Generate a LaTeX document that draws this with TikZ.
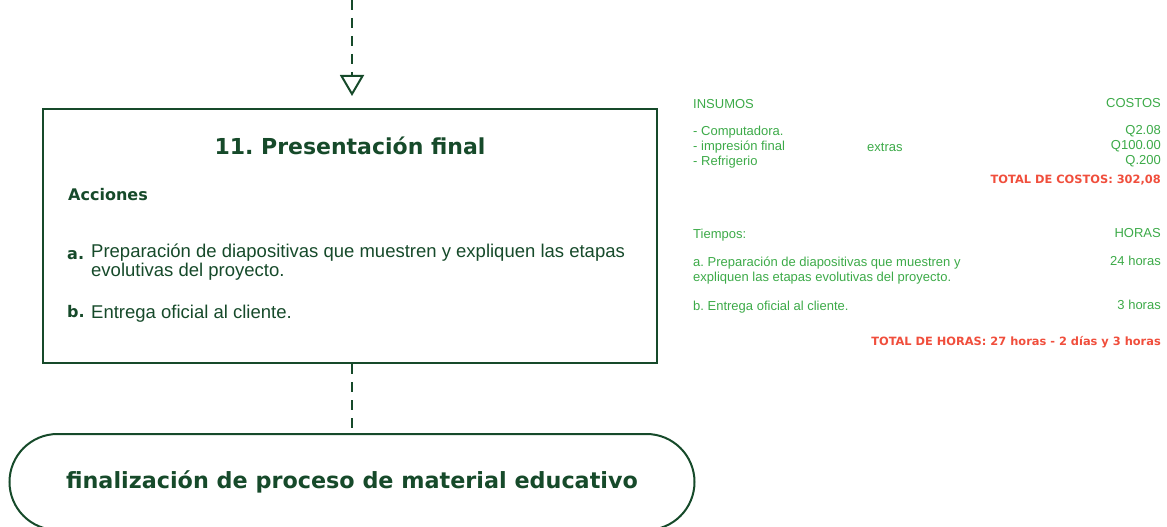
\documentclass[tikz,border=0pt]{standalone}
\usepackage{fontspec}
\setmainfont{Liberation Sans}
\newfontfamily\heavyfont{DejaVu Sans}
\usetikzlibrary{arrows.meta}
\definecolor{darkgreen}{RGB}{22,74,42}
\definecolor{lightgreen}{RGB}{60,170,72}
\definecolor{totalred}{RGB}{240,78,60}
\frenchspacing

\begin{document}
\begin{tikzpicture}[x=1pt,y=-1pt,
    box/.style={draw=darkgreen, line width=2pt, inner sep=0pt},
    link/.style={draw=darkgreen, line width=2.8pt, dash pattern=on 10pt off 8pt},
    txt/.style={text=darkgreen, inner sep=0pt, font=\fontsize{18.5}{19}\selectfont, align=left},
    heavy/.style={text=darkgreen, inner sep=0pt, font=\fontsize{#1}{#1}\selectfont\heavyfont\bfseries},
    side/.style={text=lightgreen, inner sep=0pt, font=\fontsize{13}{15}\selectfont, align=left},
    total/.style={text=totalred, inner sep=0pt, font=\fontsize{11.4}{14}\selectfont\heavyfont\bfseries}]
    \useasboundingbox (0,0) rectangle (1167,527);
    \clip (0,0) rectangle (1167,527);

    % step box
    \node[box, minimum width=614, minimum height=254] (a) at (350,236) {};
    \node[heavy=22] (b) at (350,146) {11. Presentación final};
    \node[heavy=16, anchor=west] (c) at (68,195) {Acciones};
    \node[heavy=16, anchor=west] (d) at (67,255) {a.};
    \node[txt, anchor=west] (e) at (91,262.5) {Preparación de diapositivas que muestren y expliquen las etapas\\evolutivas del proyecto.};
    \node[heavy=16, anchor=west] (f) at (67,312) {b.};
    \node[txt, anchor=west] (g) at (91,314) {Entrega oficial al cliente.};

    % end
    \node[box, rounded corners=48pt, minimum width=685, minimum height=96,
      heavy=22.3] (h) at (352,482)
      {finalización de proceso de material educativo};

    \coordinate (top) at (352,0);
    \draw[link, -{Triangle[open, length=21pt, width=24pt, line width=2pt]}] (top) -- ([yshift=12pt]top |- a.north);
    \draw[link] (h.north |- a.south) -- (h.north);

    % costs
    \node[side, anchor=west] (i) at (693,104) {INSUMOS};
    \node[side, anchor=east] (j) at (1161,103) {COSTOS};
    \node[side, anchor=west] (k) at (693,132) {- Computadora.};
    \node[side, anchor=west] (l) at (693,147) {- impresión final};
    \node[side, anchor=west] (m) at (867,147) {extras};
    \node[side, anchor=west] (n) at (693,162) {- Refrigerio};
    \node[side, anchor=east] (o) at (1161,131) {Q2.08};
    \node[side, anchor=east] (p) at (1161,146) {Q100.00};
    \node[side, anchor=east] (q) at (1161,161) {Q.200};
    \node[total, anchor=east] (r) at (1161,180) {TOTAL DE COSTOS: 302,08};

    % hours
    \node[side, anchor=west] (s) at (693,235) {Tiempos:};
    \node[side, anchor=east] (t) at (1161,233) {HORAS};
    \node[side, anchor=west] (u) at (693,270.5) {a. Preparación de diapositivas que muestren y\\expliquen las etapas evolutivas del proyecto.};
    \node[side, anchor=east] (v) at (1161,261) {24 horas};
    \node[side, anchor=west] (w) at (693,307) {b. Entrega oficial al cliente.};
    \node[side, anchor=east] (x) at (1161,305) {3 horas};
    \node[total, anchor=east] (y) at (1161,342) {TOTAL DE HORAS: 27 horas - 2 días y 3 horas};
  \end{tikzpicture}
\end{document}
